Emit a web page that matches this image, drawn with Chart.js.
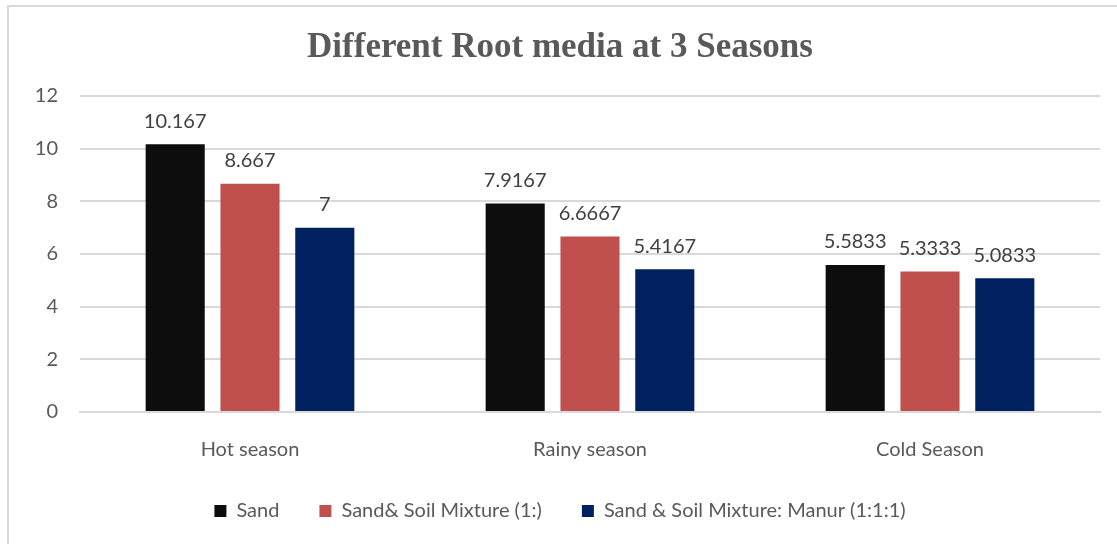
<!DOCTYPE html>
<html>
<head>
<meta charset="utf-8">
<script src="https://cdn.jsdelivr.net/npm/chart.js@4"></script>
<style>
  html, body { margin: 0; padding: 0; background: #fff; }
  #wrap { position: relative; width: 1117px; height: 544px; overflow: hidden; }
  #frame { position: absolute; left: 7px; top: 5px; width: 1120px; height: 560px;
           border: 2px solid #d9d9d9; box-sizing: border-box; }
  canvas { position: absolute; left: 0; top: 0; }
</style>
</head>
<body>
<div id="wrap">
  <div id="frame"></div>
  <canvas id="canvas" width="1117" height="544"></canvas>
</div>
<script>
const seasons = ['Hot season', 'Rainy season', 'Cold Season']
const sand = [10.167, 7.9167, 5.5833]
const sandSoil = [8.667, 6.6667, 5.3333]
const sandSoilManur = [7, 5.4167, 5.0833]
const yTicks = [0, 2, 4, 6, 8, 10, 12]

const labelFont = 'Lato, "Open Sans", sans-serif'

// value labels above bars
const barLabels = {
  id: 'barLabels',
  afterDatasetsDraw(chart) {
    const ctx = chart.ctx
    ctx.save()
    ctx.font = '20px ' + labelFont
    ctx.fillStyle = '#404040'
    ctx.textAlign = 'center'
    ctx.textBaseline = 'bottom'
    chart.data.datasets.forEach((ds, i) => {
      chart.getDatasetMeta(i).data.forEach((bar, j) => {
        ctx.fillText(String(ds.data[j]), bar.x, bar.y - 13)
      })
    })
    ctx.restore()
  }
}

const data = {
  labels: seasons,
  datasets: [
    { label: 'Sand', data: sand, backgroundColor: '#0d0d0d' },
    { label: 'Sand& Soil Mixture (1:)', data: sandSoil, backgroundColor: '#c0504d' },
    { label: 'Sand & Soil Mixture: Manur (1:1:1)', data: sandSoilManur, backgroundColor: '#002060' },
  ],
}

const config = {
  type: 'bar',
  data: data,
  options: {
    responsive: false,
    animation: false,
    layout: { padding: { left: 20, right: 17, top: 20, bottom: 23 } },
    datasets: { bar: { categoryPercentage: 0.66, barPercentage: 0.79 } },
    plugins: {
      title: {
        display: true,
        text: 'Different Root media at 3 Seasons',
        color: '#595959',
        font: { family: '"Liberation Serif", "Times New Roman", serif', size: 35, weight: 'bold' },
        padding: { top: 7, bottom: 27 },
      },
      legend: {
        position: 'bottom',
        labels: {
          boxWidth: 12, boxHeight: 12, padding: 40,
          color: '#595959',
          font: { family: labelFont, size: 20 },
        },
      },
      tooltip: { enabled: false },
    },
    scales: {
      x: {
        grid: { display: false },
        border: { color: '#d9d9d9', width: 2 },
        ticks: { color: '#595959', font: { family: labelFont, size: 20 }, padding: 18 },
      },
      y: {
        min: 0, max: 12,
        afterFit(axis) { axis.width = 60 },
        afterBuildTicks(axis) { axis.ticks = yTicks.map(v => ({ value: v })) },
        grid: { color: '#d9d9d9', lineWidth: 2, drawTicks: false },
        border: { display: false },
        ticks: { color: '#595959', font: { family: labelFont, size: 20 }, padding: 22 },
      },
    },
  },
  plugins: [barLabels],
}

const canvas = document.getElementById('canvas')
const chart = new Chart(canvas, config)

// wide gaps between legend items without the tall vertical padding
const fitLegend = chart.legend.fit
chart.legend.fit = function () {
  fitLegend.call(this)
  this.height = 41
}
const drawLegend = chart.legend.draw
chart.legend.draw = function () {
  const top = this.top
  this.top = top - 19
  drawLegend.call(this)
  this.top = top
}
chart.update()
</script>
</body>
</html>
